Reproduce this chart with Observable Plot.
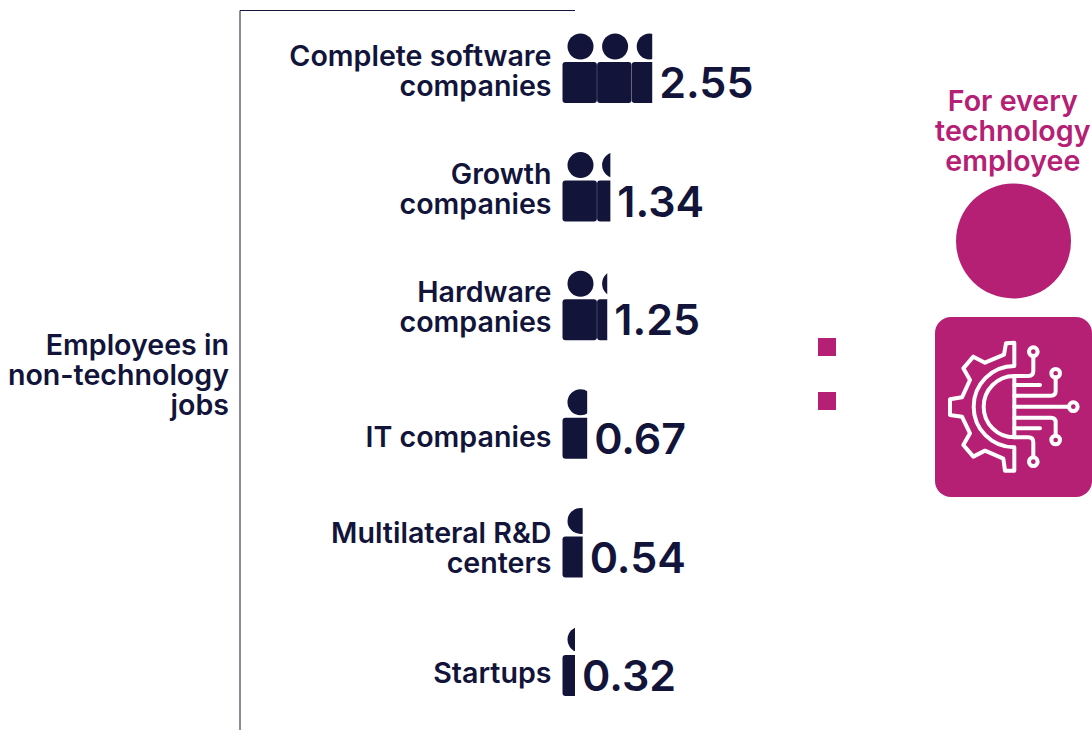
<!DOCTYPE html>
<html><head><meta charset="utf-8">
<style>html,body{margin:0;padding:0;background:#fff}svg{display:block}</style>
<script src="https://cdn.jsdelivr.net/npm/d3@7"></script>
<script src="https://cdn.jsdelivr.net/npm/@observablehq/plot@0.6"></script>
</head><body><div id="chart"></div>
<script>
const categories = ["Complete software\ncompanies","Growth\ncompanies","Hardware\ncompanies","IT companies","Multilateral R&D\ncenters","Startups"];
const values = [2.55,1.34,1.25,0.67,0.54,0.32];
const yTitle = "Employees in\nnon-technology\njobs";
const keyTitle = "For every\ntechnology\nemployee";

const NAVY="#12143a", MAGENTA="#b52074", FONT="Inter, sans-serif";
const labelNudge=[-12,-12,-13,-1,-9,-3];

const rows=categories.map((c,i)=>({c,v:values[i],nudge:labelNudge[i],i}));
const persons=rows.flatMap(r=>d3.range(Math.ceil(r.v)).map(k=>({c:r.c,k,v:r.v})));

const clipped=(cat,v,tag)=>(I,s,vals,dim,ctx,next)=>{
  const g=next(I,s,vals,dim,ctx);
  const NS="http://www.w3.org/2000/svg",doc=ctx.document;
  const wrap=doc.createElementNS(NS,"g"),cp=doc.createElementNS(NS,"clipPath"),rc=doc.createElementNS(NS,"rect");
  const id=`clip-${tag}-${categories.indexOf(cat)}`;
  cp.setAttribute("id",id);
  rc.setAttribute("x",0);rc.setAttribute("y",0);
  rc.setAttribute("width",s.x(v)+1.5);rc.setAttribute("height",dim.height);
  cp.appendChild(rc);wrap.appendChild(cp);wrap.setAttribute("clip-path",`url(#${id})`);wrap.appendChild(g);
  return wrap;
};
const personMarks=rows.flatMap(r=>{
  const mine=persons.filter(p=>p.c===r.c);
  return [
    Plot.barX(mine,{x1:"k",x2:d=>d.k+1,y:"c",fill:NAVY,rx:3,insetRight:0.2,render:clipped(r.c,r.v,"b")}),
    Plot.dot(mine,{x:"k",y:"c",r:13,fill:NAVY,dx:17.5,dy:-36.5,render:clipped(r.c,r.v,"h")})
  ];
});

const decor=(I,s,v,dim,ctx)=>{
  const g=d3.select(ctx.document.createElementNS("http://www.w3.org/2000/svg","g"));
  g.append("path").attr("d","M240,730V10.5H575").attr("fill","none").attr("stroke",NAVY).attr("stroke-width",1);
  g.append("circle").attr("cx",1013.5).attr("cy",241).attr("r",57.5).attr("fill",MAGENTA);
  g.append("rect").attr("x",935).attr("y",317).attr("width",157).attr("height",180).attr("rx",16).attr("fill",MAGENTA);
  [338,392].forEach(y=>g.append("rect").attr("x",818).attr("y",y).attr("width",18).attr("height",18).attr("fill",MAGENTA));
  const ic=g.append("g").attr("transform","translate(920,300) scale(0.3333)").attr("fill","none").attr("stroke","#fff").attr("stroke-width",12).attr("stroke-linecap","round").attr("stroke-linejoin","round");
  ic.append("path").attr("d","M283,198V128L258,130L252,164L195,188L160,170L130,205L150,240L126,292L90,298V345L126,350L150,400L130,435L160,470L195,452L250,476L255,512H283V442A122,122 0 0 1 283,198Z");
  ic.append("path").attr("d","M283,228V412A92,92 0 0 1 283,228Z");
  ic.append("path").attr("d","M283,228H325Q340,228 340,213V168 M283,255H360 M283,287H393Q407,287 407,273V232 M283,320H447 M283,353H393Q407,353 407,367V405 M283,385H360 M283,412H325Q340,412 340,427V472");
  [[340,155],[407,220],[460,320],[407,420],[340,485]].forEach(([x,y])=>ic.append("circle").attr("cx",x).attr("cy",y).attr("r",13));
  return g.node();
};

const plot=Plot.plot({
  width:1092,height:730,margin:0,
  style:{background:"#fff",fontFamily:FONT},
  x:{axis:null,domain:[0,1],range:[562.5,597.1]},
  y:{axis:null,type:"band",domain:categories,range:[-15.6,773.6],padding:0.654,round:false},
  marks:[
    decor,
    ...personMarks,
    Plot.text(rows,{x:()=>0,y:"c",text:"c",dx:-11.5,textAnchor:"end",fill:NAVY,fontSize:28.6,fontWeight:600,lineHeight:1.05,
      render:(I,s,v,d,c,next)=>{const g=next(I,s,v,d,c);g.querySelectorAll("text").forEach((t,j)=>t.setAttribute("transform",t.getAttribute("transform").replace(/,\s*([\d.-]+)\)/,(m,y)=>`,${+y+rows[I[j]].nudge})`)));return g;}}),
    Plot.text(rows,{x:"v",y:"c",text:d=>d.v.toFixed(2),dx:8,dy:1.5,textAnchor:"start",fill:NAVY,fontSize:43,fontWeight:600}),
    Plot.text([yTitle],{x:()=>0,y:()=>categories[3],text:d=>d,dx:-334,dy:-63,textAnchor:"end",fill:NAVY,fontSize:28.6,fontWeight:600,lineHeight:1.05}),
    Plot.text([keyTitle],{x:()=>13,y:()=>categories[1],text:d=>d,dy:-70,textAnchor:"middle",fill:MAGENTA,fontSize:28.6,fontWeight:600,lineHeight:1.05})
  ]
});
document.getElementById("chart").appendChild(plot);
</script></body></html>
